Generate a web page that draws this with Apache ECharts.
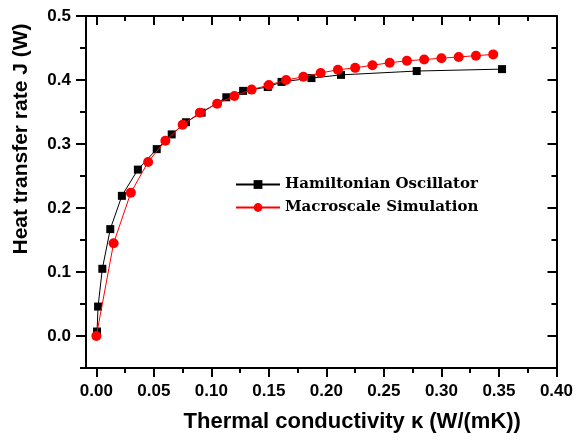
<!DOCTYPE html>
<html><head><meta charset="utf-8">
<script src="https://cdn.jsdelivr.net/npm/echarts@6/dist/echarts.min.js"></script>
<style>html,body{margin:0;padding:0;background:#fff}#c{width:576px;height:440px}</style>
</head><body><div id="c"></div>
<script>
// Hamiltonian Oscillator (black squares)
const hamX = [0.0006, 0.0015, 0.0052, 0.0121, 0.0222, 0.0361, 0.0525, 0.0655, 0.0779, 0.0915, 0.113, 0.1276, 0.149, 0.161, 0.187, 0.2127, 0.2785, 0.3527];
const hamY = [0.007, 0.046, 0.105, 0.167, 0.219, 0.260, 0.292, 0.315, 0.334, 0.349, 0.373, 0.383, 0.389, 0.397, 0.403, 0.408, 0.414, 0.417];
// Macroscale Simulation (red circles)
const macX = [0.000, 0.015, 0.030, 0.045, 0.060, 0.075, 0.090, 0.105, 0.120, 0.135, 0.150, 0.165, 0.180, 0.195, 0.210, 0.225, 0.240, 0.255, 0.270, 0.285, 0.300, 0.315, 0.330, 0.345];
const macY = [0.000, 0.145, 0.224, 0.272, 0.305, 0.330, 0.349, 0.363, 0.375, 0.385, 0.392, 0.400, 0.405, 0.411, 0.416, 0.419, 0.423, 0.427, 0.430, 0.432, 0.434, 0.436, 0.438, 0.440];
// Tick values
const xMajor = [0, 0.05, 0.10, 0.15, 0.20, 0.25, 0.30, 0.35, 0.40];
const xMinor = [0.025, 0.075, 0.125, 0.175, 0.225, 0.275, 0.325, 0.375];
const yMajor = [0, 0.1, 0.2, 0.3, 0.4, 0.5];
const yMinor = [-0.05, 0.05, 0.15, 0.25, 0.35, 0.45];

const X_MIN = -0.009, X_MAX = 0.40, Y_MIN = -0.05, Y_MAX = 0.5;
const lineStyle = {color: '#000', width: 2};
const sans = 'Liberation Sans, Arial, sans-serif';
function ax(extra) {
  return Object.assign({type: 'value', splitLine: {show: false}, axisLine: {show: false, onZero: false, lineStyle: lineStyle}}, extra);
}
const xAxes = [
  ax({position: 'bottom', min: X_MIN, max: X_MAX,
      axisLine: {show: true, onZero: false, lineStyle: lineStyle},
      axisTick: {show: true, inside: false, length: 9, lineStyle: {width: 2, color: '#000'}, customValues: xMajor},
      axisLabel: {show: true, customValues: xMajor, formatter: v => v.toFixed(2), margin: 15,
                  fontFamily: sans, fontWeight: 'bold', fontSize: 17, color: '#000'},
      name: 'Thermal conductivity \u03ba (W/(mK))', nameLocation: 'middle', nameGap: 43,
      nameTextStyle: {fontFamily: sans, fontWeight: 'bold', fontSize: 22, color: '#000', padding: [0, 0, 0, 62]}}),
  ax({position: 'bottom', min: X_MIN, max: X_MAX,
      axisTick: {show: true, inside: false, length: 5, lineStyle: {width: 2, color: '#000'}, customValues: xMinor},
      axisLabel: {show: false}}),
  ax({position: 'top', min: X_MIN, max: X_MAX,
      axisLine: {show: true, onZero: false, lineStyle: lineStyle},
      axisTick: {show: true, inside: true, length: 9, lineStyle: {width: 2, color: '#000'}, customValues: xMajor},
      axisLabel: {show: false}}),
  ax({position: 'top', min: X_MIN, max: X_MAX,
      axisTick: {show: true, inside: true, length: 5, lineStyle: {width: 2, color: '#000'}, customValues: xMinor},
      axisLabel: {show: false}})
];
const yAxes = [
  ax({position: 'left', min: Y_MIN, max: Y_MAX,
      axisLine: {show: true, onZero: false, lineStyle: lineStyle},
      axisTick: {show: true, inside: false, length: 10, lineStyle: {width: 2, color: '#000'}, customValues: yMajor},
      axisLabel: {show: true, customValues: yMajor, formatter: v => v.toFixed(1), margin: 15,
                  fontFamily: sans, fontWeight: 'bold', fontSize: 17, color: '#000'},
      name: 'Heat transfer rate J (W)', nameLocation: 'middle', nameGap: 54, nameRotate: 90,
      nameTextStyle: {fontFamily: sans, fontWeight: 'bold', fontSize: 21, color: '#000', padding: [0, 0, 0, 106]}}),
  ax({position: 'left', min: Y_MIN, max: Y_MAX,
      axisTick: {show: true, inside: false, length: 6, lineStyle: {width: 2, color: '#000'}, customValues: yMinor},
      axisLabel: {show: false}}),
  ax({position: 'right', min: Y_MIN, max: Y_MAX,
      axisLine: {show: true, onZero: false, lineStyle: lineStyle},
      axisTick: {show: true, inside: true, length: 9, lineStyle: {width: 2, color: '#000'}, customValues: yMajor},
      axisLabel: {show: false}}),
  ax({position: 'right', min: Y_MIN, max: Y_MAX,
      axisTick: {show: true, inside: true, length: 5, lineStyle: {width: 2, color: '#000'}, customValues: yMinor},
      axisLabel: {show: false}})
];

const chart = echarts.init(document.getElementById('c'), null, {renderer: 'canvas'});
chart.setOption({
  animation: false,
  backgroundColor: '#fff',
  grid: {left: 86, right: 19, top: 16, bottom: 72, containLabel: false},
  xAxis: xAxes,
  yAxis: yAxes,
  legend: {
    orient: 'vertical', left: 230, top: 172, itemGap: 8, itemWidth: 44, itemHeight: 11,
    textStyle: {fontFamily: 'DejaVu Serif, serif', fontWeight: 'bold', fontSize: 15, color: '#000'},
    data: ['Hamiltonian Oscillator', 'Macroscale Simulation']
  },
  series: [
    {name: 'Hamiltonian Oscillator', type: 'line', xAxisIndex: 0, yAxisIndex: 0,
     data: hamX.map((x, i) => [x, hamY[i]]), symbol: 'rect', symbolSize: 8,
     itemStyle: {color: '#000'}, lineStyle: {color: '#000', width: 1}, z: 3},
    {name: 'Macroscale Simulation', type: 'line', xAxisIndex: 0, yAxisIndex: 0,
     data: macX.map((x, i) => [x, macY[i]]), symbol: 'circle', symbolSize: 10,
     itemStyle: {color: '#ff0000'}, lineStyle: {color: '#ff0000', width: 1}, z: 4}
  ]
});
</script></body></html>
